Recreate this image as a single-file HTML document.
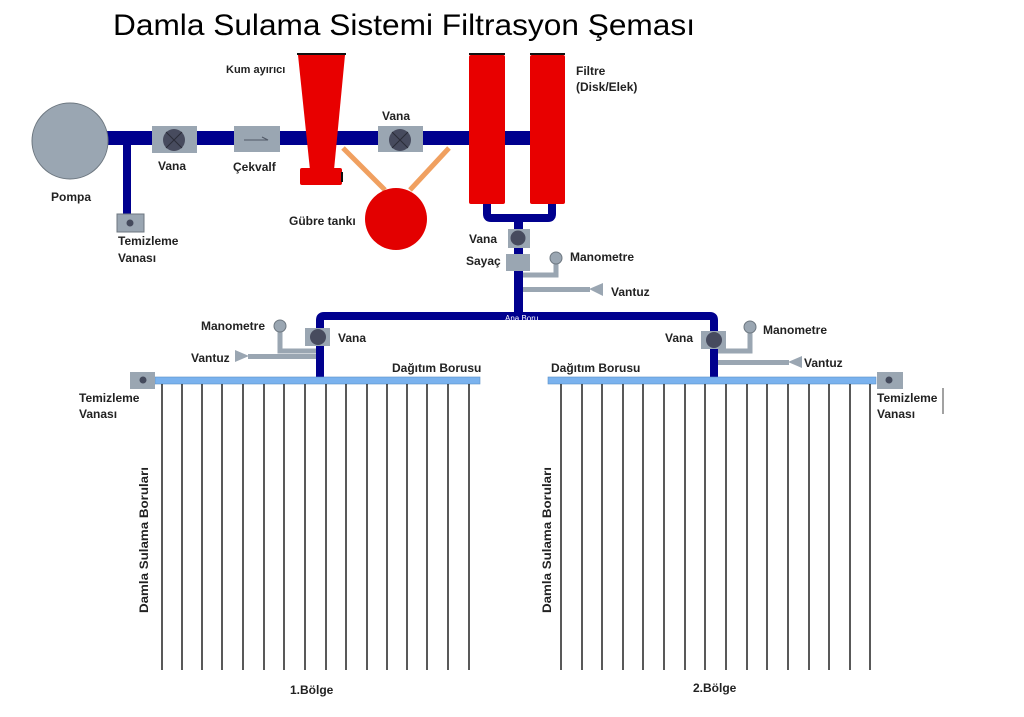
<!DOCTYPE html>
<html><head><meta charset="utf-8"><style>
html,body{margin:0;padding:0;background:#fff;}
svg{display:block;}
text{font-family:"Liberation Sans",sans-serif;font-weight:bold;fill:#222;font-size:12px;}
</style></head><body>
<svg width="1024" height="717" viewBox="0 0 1024 717" xmlns="http://www.w3.org/2000/svg">
<text x="113" y="35" style="font-weight:normal;font-size:30px;fill:#000" textLength="582" lengthAdjust="spacingAndGlyphs">Damla Sulama Sistemi Filtrasyon Şeması</text>

<!-- main pipe -->
<rect x="100" y="131" width="460" height="14" fill="#00008e"/>
<rect x="123" y="140" width="8" height="76" fill="#00008e"/>
<rect x="117" y="214" width="27" height="18" fill="#9aa6b2" stroke="#6d7780" stroke-width="1"/>
<circle cx="130" cy="223" r="3.5" fill="#444a5c"/>
<!-- pompa -->
<circle cx="70" cy="141" r="38" fill="#9aa6b2" stroke="#6d7780" stroke-width="1"/>
<!-- vana1 -->
<rect x="152" y="126" width="45" height="27" fill="#9aa6b2"/>
<circle cx="174" cy="140" r="11" fill="#474b5e"/>
<path d="M166 132L182 148M182 132L166 148" stroke="#2a2c38" stroke-width="1"/>
<!-- cekvalf -->
<rect x="234" y="126" width="46" height="26" fill="#9aa6b2"/>
<path d="M244 140H268L262 137" stroke="#505866" stroke-width="1" fill="none"/>
<!-- gubre lines -->
<path d="M343 148L385 190M449 148L410 190" stroke="#f0a060" stroke-width="5"/>
<circle cx="396" cy="219" r="31" fill="#e30000"/>
<!-- kum ayirici -->
<path d="M298 55H345L334 170H310Z" fill="#e80000"/>
<rect x="300" y="168" width="42" height="17" rx="2" fill="#e80000"/>
<rect x="297" y="53" width="49" height="2" fill="#111"/>
<path d="M342 172v10" stroke="#111" stroke-width="2"/>
<!-- vana2 -->
<rect x="378" y="126" width="45" height="26" fill="#9aa6b2"/>
<circle cx="400" cy="140" r="11" fill="#474b5e"/>
<path d="M392 132L408 148M408 132L392 148" stroke="#2a2c38" stroke-width="1"/>
<!-- filter U -->
<path d="M487 200V214Q487 218 491 218H548Q552 218 552 214V200" stroke="#00008e" stroke-width="8" fill="none"/>
<rect x="514" y="218" width="9" height="100" fill="#00008e"/>
<rect x="469" y="55" width="36" height="149" rx="2" fill="#e80000"/>
<rect x="530" y="55" width="35" height="149" rx="2" fill="#e80000"/>
<rect x="469" y="53" width="36" height="2" fill="#111"/>
<rect x="530" y="53" width="35" height="2" fill="#111"/>
<!-- vana/sayac -->
<rect x="508" y="229" width="22" height="19" fill="#9aa6b2"/>
<circle cx="518" cy="238" r="7.5" fill="#474b5e"/>
<rect x="506" y="254" width="24" height="17" fill="#9aa6b2"/>
<path d="M556 262V275H523" stroke="#9aa6b2" stroke-width="5" fill="none"/>
<circle cx="556" cy="258" r="6" fill="#9aa6b2" stroke="#6d7780"/>
<rect x="523" y="287" width="67" height="5" fill="#9aa6b2"/>
<path d="M589 289L603 283V296Z" fill="#9aa6b2"/>
<!-- ana boru -->
<path d="M320 377V320Q320 316 324 316H710Q714 316 714 320V377" stroke="#00008e" stroke-width="8" fill="none"/>
<text x="505" y="321" style="font-size:8px;fill:#fff;font-weight:normal">Ana Boru</text>
<!-- zone1 -->
<path d="M280 330V351H316" stroke="#9aa6b2" stroke-width="5" fill="none"/>
<circle cx="280" cy="326" r="6" fill="#9aa6b2" stroke="#6d7780"/>
<rect x="248" y="354" width="68" height="5" fill="#9aa6b2"/>
<path d="M249 356L235 350V362Z" fill="#9aa6b2"/>
<rect x="305" y="328" width="25" height="18" fill="#9aa6b2"/>
<circle cx="318" cy="337" r="8" fill="#474b5e"/>
<!-- zone2 -->
<path d="M750 330V351H718" stroke="#9aa6b2" stroke-width="5" fill="none"/>
<circle cx="750" cy="327" r="6" fill="#9aa6b2" stroke="#6d7780"/>
<rect x="718" y="360" width="71" height="5" fill="#9aa6b2"/>
<path d="M788 362L802 356V368Z" fill="#9aa6b2"/>
<rect x="701" y="331" width="25" height="18" fill="#9aa6b2"/>
<circle cx="714" cy="340" r="8" fill="#474b5e"/>
<!-- dist pipes -->
<rect x="155" y="377" width="325" height="7" fill="#7ab2ee" stroke="#5a8fc8" stroke-width="0.6"/>
<rect x="548" y="377" width="328" height="7" fill="#7ab2ee" stroke="#5a8fc8" stroke-width="0.6"/>
<rect x="130" y="372" width="25" height="17" fill="#9aa6b2"/>
<circle cx="143" cy="380" r="3.5" fill="#444a5c"/>
<rect x="877" y="372" width="26" height="17" fill="#9aa6b2"/>
<circle cx="889" cy="380" r="3.5" fill="#444a5c"/>
<path d="M943 388v26" stroke="#444" stroke-width="1"/>
<g stroke="#222" stroke-width="1.5">
<path d="M162 384V670M182 384V670M202 384V670M222 384V670M243 384V670M264 384V670M284 384V670M305 384V670M326 384V670M346 384V670M367 384V670M387 384V670M407 384V670M427 384V670M448 384V670M469 384V670"/>
<path d="M561 384V670M582 384V670M602 384V670M623 384V670M643 384V670M664 384V670M685 384V670M705 384V670M726 384V670M747 384V670M767 384V670M788 384V670M809 384V670M829 384V670M850 384V670M870 384V670"/>
</g>
<!-- labels -->
<text x="226" y="73" style="font-size:11px">Kum ayırıcı</text>
<text x="576" y="75">Filtre</text>
<text x="576" y="91">(Disk/Elek)</text>
<text x="51" y="201">Pompa</text>
<text x="158" y="170">Vana</text>
<text x="233" y="171">Çekvalf</text>
<text x="382" y="120">Vana</text>
<text x="289" y="225">Gübre tankı</text>
<text x="118" y="245">Temizleme</text>
<text x="118" y="262">Vanası</text>
<text x="469" y="243">Vana</text>
<text x="466" y="265">Sayaç</text>
<text x="570" y="261">Manometre</text>
<text x="611" y="296">Vantuz</text>
<text x="201" y="330">Manometre</text>
<text x="338" y="342">Vana</text>
<text x="191" y="362">Vantuz</text>
<text x="392" y="372">Dağıtım Borusu</text>
<text x="79" y="402">Temizleme</text>
<text x="79" y="418">Vanası</text>
<text x="665" y="342">Vana</text>
<text x="763" y="334">Manometre</text>
<text x="804" y="367">Vantuz</text>
<text x="551" y="372">Dağıtım Borusu</text>
<text x="877" y="402">Temizleme</text>
<text x="877" y="418">Vanası</text>
<text transform="translate(148,613) rotate(-90)" textLength="146" lengthAdjust="spacingAndGlyphs">Damla Sulama Boruları</text>
<text transform="translate(551,613) rotate(-90)" textLength="146" lengthAdjust="spacingAndGlyphs">Damla Sulama Boruları</text>
<text x="290" y="694">1.Bölge</text>
<text x="693" y="692">2.Bölge</text>
</svg>
</body></html>
